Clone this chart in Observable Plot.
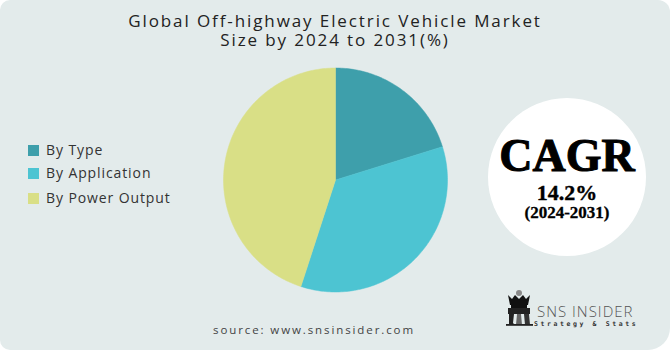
<!DOCTYPE html>
<html>
<head>
<meta charset="utf-8">
<script src="https://cdn.jsdelivr.net/npm/d3@7"></script>
<script src="https://cdn.jsdelivr.net/npm/@observablehq/plot@0.6"></script>
<style>
  html, body { margin: 0; padding: 0; background: #ffffff; }
  #frame { position: relative; width: 670px; height: 350px; overflow: hidden; background: #ffffff; }
  #panel { position: absolute; left: 0; top: 0; width: 670px; height: 350px; background: #e3ebeb;
           border-radius: 10px 12px 22px 10px; }
  #chart { position: absolute; left: 0; top: 0; }
  .title { position: absolute; left: 0; width: 670px; text-align: center; font-family: "Open Sans", sans-serif;
           font-size: 17px; line-height: 19px; letter-spacing: 1.9px; color: #222; }
  .leg { position: absolute; left: 28px; font-family: "Open Sans", sans-serif; font-size: 14px; line-height: 16px; letter-spacing: 0.9px; color: #333; }
  .leg span.sw { display: inline-block; width: 11px; height: 11px; margin-right: 7px; vertical-align: -1px; }
  #cagr { position: absolute; left: 488px; top: 98px; width: 158px; height: 158px; border-radius: 50%; background: #ffffff; }
  .ct { position: absolute; left: 488px; width: 158px; text-align: center; font-family: "Liberation Serif", serif; font-weight: bold; color: #000; }
  #source { position: absolute; left: 0; width: 628px; text-align: center; top: 323px; font-family: "Open Sans", sans-serif;
            font-size: 11.5px; line-height: 14px; letter-spacing: 1.9px; color: #444; }
  #logo { position: absolute; left: 500px; top: 285px; }
</style>
</head>
<body>
<div id="frame">
  <div id="panel"></div>
  <div class="title" style="top:11px">Global Off-highway Electric Vehicle Market<br>Size by 2024 to 2031(%)</div>
  <div id="legend"></div>
  <div id="cagr"></div>
  <div class="ct" style="top:136px;font-size:46px;line-height:40px;-webkit-text-stroke:1px #000">CAGR</div>
  <div class="ct" style="top:183px;font-size:22px;line-height:20px;-webkit-text-stroke:0.4px #000">14.2%</div>
  <div class="ct" style="top:205px;font-size:17px;line-height:15px;-webkit-text-stroke:0.3px #000">(2024-2031)</div>
  <div id="chart"></div>
  <div id="source">source: www.snsinsider.com</div>
  <svg id="logo" width="160" height="50" viewBox="0 0 160 50">
    <circle cx="19" cy="8" r="3" fill="#888"/>
    <path d="M8 10 L12 14 L15 10 L19 14 L23 10 L26 14 L30 10 L28 20 L10 20 Z" fill="#111"/>
    <rect x="11" y="20" width="16" height="3" fill="#111"/>
    <rect x="8" y="23" width="22" height="6" fill="#222"/>
    <path d="M9 29 L14 29 L13 38 L15 40 L9 40 Z" fill="#222"/>
    <path d="M17 29 L21 29 L22 40 L16 40 Z" fill="#666"/>
    <path d="M24 29 L29 29 L30 40 L25 40 Z" fill="#333"/>
    <rect x="6" y="39" width="27" height="1.8" fill="#222"/>
    <text x="37" y="32" font-family="Open Sans, sans-serif" font-size="15" letter-spacing="1" fill="#555" font-weight="300">SNS INSIDER</text>
    <text x="34" y="41" font-family="DejaVu Sans Mono, monospace" font-size="6.5" font-weight="bold" letter-spacing="2.6" fill="#333">Strategy &amp; Stats</text>
  </svg>
</div>
<script>
const categories = ["By Type", "By Application", "By Power Output"];
const shares = [20.2, 34.8, 45.0];
const colors = ["#3e9fab", "#4dc4d2", "#d9df86"];

// legend
const legTops = [142, 165, 190];
const legend = document.getElementById("legend");
categories.forEach((c, i) => {
  const d = document.createElement("div");
  d.className = "leg";
  d.style.top = legTops[i] + "px";
  d.innerHTML = `<span class="sw" style="background:${colors[i]}"></span>${c}`;
  legend.appendChild(d);
});

// pie slices via d3.pie, drawn with Plot line marks (filled polygons)
const pie = d3.pie().sort(null).value(d => d.value)(categories.map((c, i) => ({category: c, value: shares[i]})));
const pts = [];
pie.forEach(a => {
  const cat = a.data.category;
  pts.push({category: cat, x: 0, y: 0});
  const n = Math.max(2, Math.ceil((a.endAngle - a.startAngle) / (Math.PI / 180)));
  for (let k = 0; k <= n; k++) {
    const t = a.startAngle + (a.endAngle - a.startAngle) * k / n;
    pts.push({category: cat, x: Math.sin(t), y: Math.cos(t)});
  }
  pts.push({category: cat, x: 0, y: 0});
});

const chart = Plot.plot({
  width: 670,
  height: 350,
  margin: 0,
  style: {background: "transparent"},
  x: {domain: [-1, 1], range: [223, 447], axis: null},
  y: {domain: [-1, 1], range: [291.5, 67.5], axis: null},
  color: {domain: categories, range: colors},
  marks: [
    Plot.line(pts, {x: "x", y: "y", z: "category", fill: "category", stroke: "category", strokeWidth: 0.5, curve: "linear"})
  ]
});
document.getElementById("chart").appendChild(chart);
</script>
</body>
</html>
